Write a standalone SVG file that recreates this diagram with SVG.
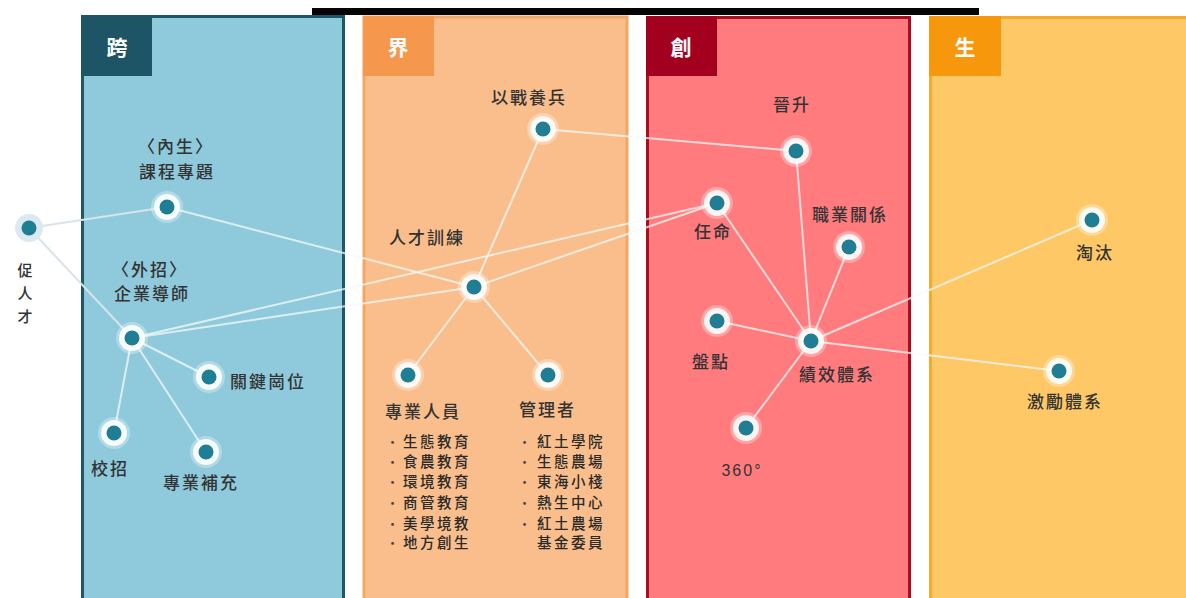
<svg xmlns="http://www.w3.org/2000/svg" width="1186" height="598" viewBox="0 0 1186 598">
<style>
text{font-family:"Noto Sans CJK TC","Liberation Sans",sans-serif;}
.lbl{font-size:17px;font-weight:500;fill:#333333;text-anchor:middle;letter-spacing:2px;}
.lbll{font-size:17px;font-weight:500;fill:#333333;letter-spacing:2px;}
.vt{font-size:15px;font-weight:500;fill:#333333;text-anchor:middle;}
.li{font-size:14.5px;font-weight:500;fill:#2a2a2a;letter-spacing:2.5px;}
.bul{font-size:13px;fill:#444;}
.hd{font-size:21px;font-weight:bold;fill:#ffffff;text-anchor:middle;}
.edge{stroke:#f6f9fa;stroke-opacity:0.75;stroke-width:2;fill:none;stroke-linecap:round;}
.edge2{stroke:#d8e3ea;stroke-width:2;fill:none;}
.halo{fill:#ffffff;fill-opacity:0.88;}
.glow{fill:#ffffff;fill-opacity:0.3;}
.core{fill:#1f7e94;}
</style>
<rect width="1186" height="598" fill="#ffffff"/>
<rect x="312" y="8" width="667" height="7" fill="#050505"/>

<g id="panel-kua">
<rect x="82.5" y="16.5" width="261" height="600" fill="#8fcadc" stroke="#1d5868" stroke-width="3"/>
<rect x="81" y="15" width="71" height="61" fill="#1d5566"/>
<text class="hd" x="117" y="55">跨</text>
</g>
<g id="panel-jie">
<rect x="364" y="17" width="263" height="600" fill="#f9be8c" stroke="#f2a764" stroke-width="3"/>
<rect x="363" y="16" width="71" height="60" fill="#f5974c"/>
<text class="hd" x="398" y="55">界</text>
</g>
<g id="panel-chuang">
<rect x="647.5" y="17.5" width="262" height="600" fill="#ff7b7e" stroke="#a80d20" stroke-width="3"/>
<rect x="646" y="16" width="71" height="60" fill="#a3001f"/>
<text class="hd" x="681" y="55">創</text>
</g>
<g id="panel-sheng">
<rect x="930.5" y="17.5" width="280" height="600" fill="#fec866" stroke="#f3ab2c" stroke-width="3"/>
<rect x="929" y="16" width="72" height="60" fill="#f7970b"/>
<text class="hd" x="965" y="55">生</text>
</g>

<g id="connectors">
<line class="edge2" x1="29" y1="228" x2="167" y2="207"/>
<line class="edge2" x1="29" y1="228" x2="132" y2="338"/>
<line class="edge" x1="167" y1="207" x2="474" y2="287"/>
<line class="edge" x1="132" y1="338" x2="717" y2="203"/>
<line class="edge" x1="132" y1="338" x2="474" y2="287"/>
<line class="edge" x1="132" y1="338" x2="209" y2="377"/>
<line class="edge" x1="132" y1="338" x2="114" y2="433"/>
<line class="edge" x1="132" y1="338" x2="206" y2="452"/>
<line class="edge" x1="474" y1="287" x2="717" y2="203"/>
<line class="edge" x1="474" y1="287" x2="543" y2="129"/>
<line class="edge" x1="474" y1="287" x2="408" y2="375"/>
<line class="edge" x1="474" y1="287" x2="548" y2="375"/>
<line class="edge" x1="543" y1="129" x2="796" y2="151"/>
<line class="edge" x1="811" y1="341" x2="796" y2="151"/>
<line class="edge" x1="811" y1="341" x2="717" y2="203"/>
<line class="edge" x1="811" y1="341" x2="849" y2="247"/>
<line class="edge" x1="811" y1="341" x2="717" y2="321"/>
<line class="edge" x1="811" y1="341" x2="746" y2="428"/>
<line class="edge" x1="811" y1="341" x2="1092" y2="220"/>
<line class="edge" x1="811" y1="341" x2="1059" y2="371"/>
</g>

<g id="n-cu">
<circle cx="29" cy="228" r="14" fill="#dce9f2"/>
<circle class="core" cx="29" cy="228" r="7.5"/>
<text class="vt" x="25" y="276">促</text>
<text class="vt" x="25" y="299">人</text>
<text class="vt" x="25" y="322">才</text>
</g>
<g id="n-kecheng">
<circle class="glow" cx="167" cy="207" r="16"/><circle class="halo" cx="167" cy="207" r="13"/><circle class="core" cx="167" cy="207" r="7.5"/>
<text class="lbl" x="176" y="153" letter-spacing="0">〈內生〉</text>
<text class="lbl" x="177" y="178">課程專題</text>
</g>
<g id="n-qiye">
<circle class="glow" cx="132" cy="338" r="16"/><circle class="halo" cx="132" cy="338" r="13"/><circle class="core" cx="132" cy="338" r="7.5"/>
<text class="lbl" x="150" y="276" letter-spacing="0">〈外招〉</text>
<text class="lbl" x="152" y="300">企業導師</text>
</g>
<g id="n-guanjian">
<circle class="glow" cx="209" cy="377" r="16"/><circle class="halo" cx="209" cy="377" r="13"/><circle class="core" cx="209" cy="377" r="7.5"/>
<text class="lbll" x="230" y="388">關鍵崗位</text>
</g>
<g id="n-xiaozhao">
<circle class="glow" cx="114" cy="433" r="16"/><circle class="halo" cx="114" cy="433" r="13"/><circle class="core" cx="114" cy="433" r="7.5"/>
<text class="lbl" x="110" y="475">校招</text>
</g>
<g id="n-buchong">
<circle class="glow" cx="206" cy="452" r="16"/><circle class="halo" cx="206" cy="452" r="13"/><circle class="core" cx="206" cy="452" r="7.5"/>
<text class="lbl" x="201" y="489">專業補充</text>
</g>

<g id="n-yizhan">
<circle class="glow" cx="543" cy="129" r="16"/><circle class="halo" cx="543" cy="129" r="13"/><circle class="core" cx="543" cy="129" r="7.5"/>
<text class="lbl" x="529" y="104">以戰養兵</text>
</g>
<g id="n-xunlian">
<circle class="glow" cx="474" cy="287" r="16"/><circle class="halo" cx="474" cy="287" r="13"/><circle class="core" cx="474" cy="287" r="7.5"/>
<text class="lbl" x="427" y="244">人才訓練</text>
</g>
<g id="n-zhuanye">
<circle class="glow" cx="408" cy="375" r="16"/><circle class="halo" cx="408" cy="375" r="13"/><circle class="core" cx="408" cy="375" r="7.5"/>
<text class="lbll" x="385" y="418">專業人員</text>
<g>
<text class="bul" x="386" y="447">•</text><text class="li" x="403" y="447">生態教育</text>
<text class="bul" x="386" y="467">•</text><text class="li" x="403" y="467">食農教育</text>
<text class="bul" x="386" y="487">•</text><text class="li" x="403" y="487">環境教育</text>
<text class="bul" x="386" y="508">•</text><text class="li" x="403" y="508">商管教育</text>
<text class="bul" x="386" y="529">•</text><text class="li" x="403" y="529">美學境教</text>
<text class="bul" x="386" y="548">•</text><text class="li" x="403" y="548">地方創生</text>
</g>
</g>
<g id="n-guanli">
<circle class="glow" cx="548" cy="375" r="16"/><circle class="halo" cx="548" cy="375" r="13"/><circle class="core" cx="548" cy="375" r="7.5"/>
<text class="lbll" x="519" y="416">管理者</text>
<g>
<text class="bul" x="518" y="447">•</text><text class="li" x="537" y="447">紅土學院</text>
<text class="bul" x="518" y="467">•</text><text class="li" x="537" y="467">生態農場</text>
<text class="bul" x="518" y="487">•</text><text class="li" x="537" y="487">東海小棧</text>
<text class="bul" x="518" y="508">•</text><text class="li" x="537" y="508">熱生中心</text>
<text class="bul" x="518" y="529">•</text><text class="li" x="537" y="529">紅土農場</text>
<text class="li" x="537" y="548">基金委員</text>
</g>
</g>

<g id="n-jinsheng">
<circle class="glow" cx="796" cy="151" r="16"/><circle class="halo" cx="796" cy="151" r="13"/><circle class="core" cx="796" cy="151" r="7.5"/>
<text class="lbl" x="792" y="111">晉升</text>
</g>
<g id="n-renming">
<circle class="glow" cx="717" cy="203" r="16"/><circle class="halo" cx="717" cy="203" r="13"/><circle class="core" cx="717" cy="203" r="7.5"/>
<text class="lbl" x="713" y="238">任命</text>
</g>
<g id="n-zhiye">
<circle class="glow" cx="849" cy="247" r="16"/><circle class="halo" cx="849" cy="247" r="13"/><circle class="core" cx="849" cy="247" r="7.5"/>
<text class="lbl" x="850" y="221">職業關係</text>
</g>
<g id="n-pandian">
<circle class="glow" cx="717" cy="321" r="16"/><circle class="halo" cx="717" cy="321" r="13"/><circle class="core" cx="717" cy="321" r="7.5"/>
<text class="lbl" x="711" y="368">盤點</text>
</g>
<g id="n-jixiao">
<circle class="glow" cx="811" cy="341" r="16"/><circle class="halo" cx="811" cy="341" r="13"/><circle class="core" cx="811" cy="341" r="7.5"/>
<text class="lbl" x="837" y="381">績效體系</text>
</g>
<g id="n-360">
<circle class="glow" cx="746" cy="428" r="16"/><circle class="halo" cx="746" cy="428" r="13"/><circle class="core" cx="746" cy="428" r="7.5"/>
<text class="lbl" x="742" y="476" letter-spacing="0" style="font-family:'Liberation Sans',sans-serif;font-size:16px">360°</text>
</g>

<g id="n-taotai">
<circle class="glow" cx="1092" cy="220" r="16"/><circle class="halo" cx="1092" cy="220" r="13"/><circle class="core" cx="1092" cy="220" r="7.5"/>
<text class="lbl" x="1095" y="259">淘汰</text>
</g>
<g id="n-jili">
<circle class="glow" cx="1059" cy="371" r="16"/><circle class="halo" cx="1059" cy="371" r="13"/><circle class="core" cx="1059" cy="371" r="7.5"/>
<text class="lbl" x="1065" y="408">激勵體系</text>
</g>
</svg>
